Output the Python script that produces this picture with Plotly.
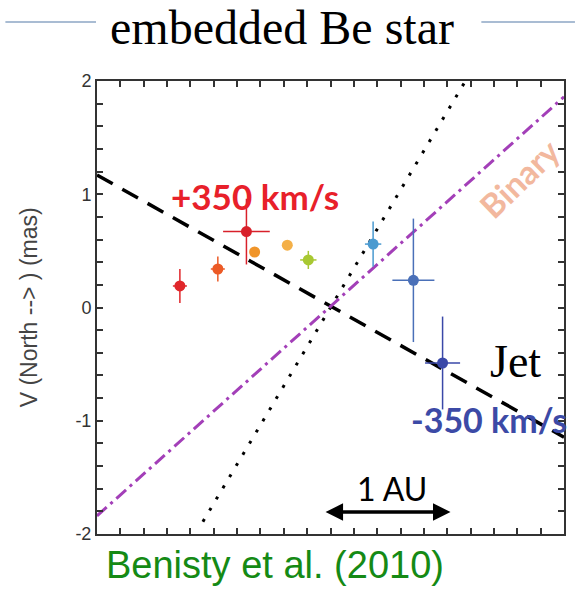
import plotly.graph_objects as go

# Photocentre offsets (mas) per spectral channel
offset_u = [-1.29, -0.965, -0.72, -0.65, -0.37, -0.19, 0.365, 0.71, 0.96]
offset_v = [0.19, 0.34, 0.67, 0.49, 0.55, 0.42, 0.56, 0.24, -0.49]
err_u = [0.06, 0.06, 0.20, 0.04, 0.04, 0.07, 0.07, 0.18, 0.15]
err_v = [0.15, 0.11, 0.29, 0.04, 0.04, 0.08, 0.20, 0.545, 0.41]
channel_colors = ["#e0262a", "#ec5a26", "#d8202a", "#f0952a", "#f4b048",
                  "#a8c832", "#4a9ad0", "#4a70b8", "#3a48a8"]

# Model directions (end points in mas)
jet_u = [-2.0, 2.0]
jet_v = [1.17, -1.145]
disk_u = [-1.093, 1.156]
disk_v = [-1.891, 2.0]
binary_u = [-2.0, 2.0]
binary_v = [-1.84, 1.86]

# y tick labels
y_ticks = [-2, -1, 0, 1, 2]
y_tick_text = ["-2", "-1", "0", "1", "2"]

# plot-area geometry in pixels
L, R, T, B = 97, 566, 81, 534
W_FIG, H_FIG = 577, 596


def paper_x(px):
    return (px - L) / (R - L)


def paper_y(py):
    return (B - py) / (B - T)


fig = go.Figure()

# jet axis
fig.add_trace(go.Scatter(x=jet_u, y=jet_v, mode="lines",
                         line=dict(color="black", width=3.5, dash="18px,11px"),
                         showlegend=False, hoverinfo="skip"))
# dotted direction
fig.add_trace(go.Scatter(x=disk_u, y=disk_v, mode="lines",
                         line=dict(color="black", width=3, dash="3px,10px"),
                         showlegend=False, hoverinfo="skip"))
# binary direction
fig.add_trace(go.Scatter(x=binary_u, y=binary_v, mode="lines",
                         line=dict(color="#a33fb8", width=3, dash="13px,5px,3px,5px"),
                         showlegend=False, hoverinfo="skip"))

for u, v, eu, ev, c in zip(offset_u, offset_v, err_u, err_v, channel_colors):
    fig.add_trace(go.Scatter(
        x=[u], y=[v], mode="markers",
        marker=dict(color=c, size=11),
        error_x=dict(type="data", array=[eu], color=c, thickness=1.5, width=0),
        error_y=dict(type="data", array=[ev], color=c, thickness=1.5, width=0),
        showlegend=False, hoverinfo="skip"))

axis_common = dict(
    showline=True, linecolor="#333333", linewidth=2, mirror="ticks",
    ticks="inside", ticklen=6, tickwidth=1.5, tickcolor="#333333",
    showgrid=False, zeroline=False,
)

fig.update_xaxes(range=[-2, 2], dtick=0.2, tick0=0, showticklabels=False,
                 **axis_common)
fig.update_yaxes(range=[-2, 2], tickmode="array", tickvals=y_ticks,
                 ticktext=y_tick_text,
                 tickfont=dict(family="Liberation Sans", size=18, color="#333333"),
                 minor=dict(dtick=0.2, tick0=0, ticks="inside", ticklen=6,
                            tickwidth=1.5, tickcolor="#333333"),
                 **axis_common)

annotations = [
    dict(x=-0.648, y=0.985, xref="x", yref="y", text="<b>+350 km/s</b>",
         xanchor="center", yanchor="middle", showarrow=False,
         font=dict(family="Lato", size=35, color="#e8202a")),
    dict(x=0.67, y=-0.99, xref="x", yref="y", text="<b>-350 km/s</b>",
         xanchor="left", yanchor="middle", showarrow=False,
         font=dict(family="Lato", size=34, color="#3c4aa6")),
    dict(x=1.352, y=-0.48, xref="x", yref="y", text="Jet", xanchor="left",
         yanchor="middle", showarrow=False,
         font=dict(family="Liberation Serif", size=46, color="black")),
    dict(x=1.62, y=1.14, xref="x", yref="y", text="<b>Binary</b>", textangle=-44,
         xanchor="center", yanchor="middle", showarrow=False,
         font=dict(family="Lato", size=33, color="#f2b89e")),
    dict(x=0.524, y=-1.594, xref="x", yref="y", text="1 AU", xanchor="center",
         yanchor="middle", showarrow=False,
         font=dict(family="Lato", size=32, color="black")),
    # 1 AU scale bar
    dict(x=1.028, y=-1.806, ax=-0.055, ay=-1.806, xref="x", yref="y",
         axref="x", ayref="y", text="", showarrow=True, arrowside="end+start",
         arrowhead=2, arrowsize=1, arrowwidth=3.5, arrowcolor="black"),
    dict(x=paper_x(29), y=paper_y(307), xref="paper", yref="paper",
         xanchor="center", yanchor="middle",
         text="V (North --> ) (mas)", textangle=-90, showarrow=False,
         font=dict(family="Liberation Sans", size=23, color="#444444")),
    dict(x=paper_x(276), y=paper_y(565), xref="paper", yref="paper",
         xanchor="center", yanchor="middle",
         text="Benisty et al. (2010)", showarrow=False,
         font=dict(family="Liberation Sans", size=38, color="#158a15")),
]

shapes = [
    dict(type="line", xref="paper", yref="paper",
         x0=paper_x(5), x1=paper_x(96), y0=paper_y(22), y1=paper_y(22),
         line=dict(color="#a9bcd3", width=2)),
    dict(type="line", xref="paper", yref="paper",
         x0=paper_x(483), x1=paper_x(577), y0=paper_y(22), y1=paper_y(22),
         line=dict(color="#a9bcd3", width=2)),
]

fig.update_layout(
    width=W_FIG, height=H_FIG,
    margin=dict(l=L, r=W_FIG - R, t=T, b=H_FIG - B),
    paper_bgcolor="white", plot_bgcolor="white",
    title=dict(text="embedded Be star", x=282 / W_FIG, xanchor="center",
               y=1 - 27 / H_FIG, yanchor="middle",
               font=dict(family="Liberation Serif", size=48, color="black")),
    annotations=annotations, shapes=shapes,
)

fig.write_html("out.html")
